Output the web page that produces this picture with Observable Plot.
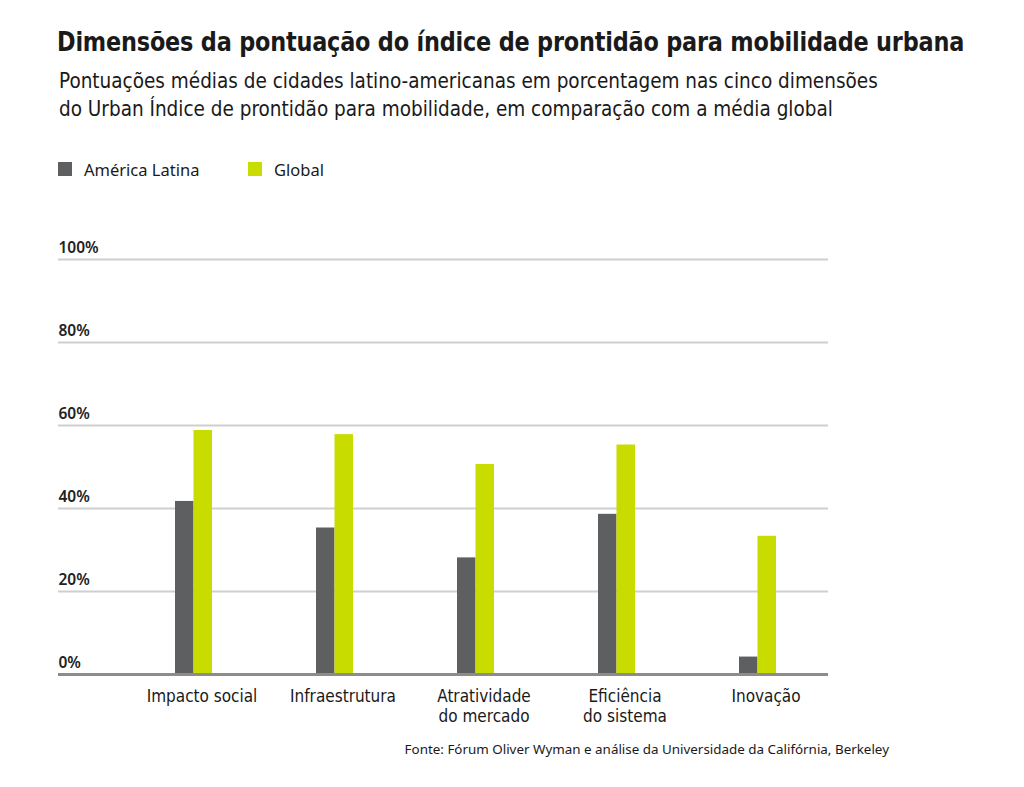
<!DOCTYPE html>
<html>
<head>
<meta charset="utf-8">
<script src="https://cdn.jsdelivr.net/npm/d3@7"></script>
<script src="https://cdn.jsdelivr.net/npm/@observablehq/plot@0.6"></script>
<style>
  html, body { margin: 0; padding: 0; background: #fff; }
  #page { position: relative; width: 1024px; height: 787px; overflow: hidden; font-family: "DejaVu Sans Condensed", "Liberation Sans Narrow", "Roboto", sans-serif; color: #1a1a1a; }
  #title { position: absolute; left: 57px; top: 27px; font-size: 26px; font-weight: bold; white-space: nowrap; letter-spacing: -0.2px; transform: scaleX(0.957); transform-origin: left top; }
  #subtitle { position: absolute; left: 59px; top: 67px; font-size: 20.5px; line-height: 28px; white-space: nowrap; }
  #legend { position: absolute; left: 58px; top: 158px; font-family: "Noto Sans", "DejaVu Sans", sans-serif; font-size: 16.5px; }
  .li { position: absolute; top: 0; white-space: nowrap; display: flex; align-items: center; height: 22px; }
  .sw { width: 14px; height: 14px; display: inline-block; margin-right: 12px; }
  #chart { position: absolute; left: 0; top: 230px; }
  #source { position: absolute; right: 135px; top: 740px; font-family: "Noto Sans", "DejaVu Sans", sans-serif; font-size: 13.4px; white-space: nowrap; }
</style>
</head>
<body>
<div id="page">
  <div id="title">Dimensões da pontuação do índice de prontidão para mobilidade urbana</div>
  <div id="subtitle">Pontuações médias de cidades latino-americanas em porcentagem nas cinco dimensões<br>do Urban Índice de prontidão para mobilidade, em comparação com a média global</div>
  <div id="legend"></div>
  <div id="chart"></div>
  <div id="source">Fonte: Fórum Oliver Wyman e análise da Universidade da Califórnia, Berkeley</div>
</div>
<script>
const categories = ["Impacto social", "Infraestrutura", "Atratividade do mercado", "Eficiência do sistema", "Inovação"];
const categoryLabels = ["Impacto social", "Infraestrutura", "Atratividade\ndo mercado", "Eficiência\ndo sistema", "Inovação"];
const seriesNames = ["América Latina", "Global"];
const seriesColors = ["#5e5f61", "#c8dc00"];
const latamValues = [41.7, 35.3, 28.1, 38.6, 4.2];
const globalValues = [58.8, 57.8, 50.6, 55.3, 33.3];
const yTicks = [0, 20, 40, 60, 80, 100];

const latam = categories.map((c, i) => ({cat: c, v: latamValues[i]}));
const glob = categories.map((c, i) => ({cat: c, v: globalValues[i]}));
const labelOf = new Map(categories.map((c, i) => [c, categoryLabels[i]]));

// legend
const legend = document.getElementById("legend");
const legendX = [0, 190];
seriesNames.forEach((n, i) => {
  const d = document.createElement("div");
  d.className = "li";
  d.style.left = legendX[i] + "px";
  d.innerHTML = `<span class="sw" style="background:${seriesColors[i]}"></span>${n}`;
  legend.appendChild(d);
});

const inset = 61.25, half = 9.25;
const chart = Plot.plot({
  width: 1024,
  height: 500,
  marginLeft: 58,
  marginRight: 196,
  marginTop: 29,
  marginBottom: 56,
  style: {fontFamily: "'DejaVu Sans Condensed', 'Liberation Sans Narrow', Roboto, sans-serif", fontSize: "16px", color: "#1a1a1a"},
  x: {domain: categories, range: [122.5, 827.5], padding: 0, axis: null},
  y: {domain: [0, 100], axis: null},
  marks: [
    Plot.ruleY(yTicks.filter(t => t > 0), {stroke: "#cfcfcf", strokeWidth: 2}),
    Plot.text(yTicks, {y: d => d, frameAnchor: "left", textAnchor: "start", dy: -11, text: d => d + "%", fontFamily: "'Noto Sans', 'DejaVu Sans', sans-serif", fontWeight: 600, fontSize: 15.5, fill: "#222"}),
    Plot.barY(latam, {x: "cat", y: "v", fill: seriesColors[0], insetLeft: inset, insetRight: inset, dx: -half}),
    Plot.barY(glob, {x: "cat", y: "v", fill: seriesColors[1], insetLeft: inset, insetRight: inset, dx: half}),
    Plot.ruleY([0], {stroke: "#8c8c8c", strokeWidth: 3}),
    Plot.text(categories, {x: d => d, frameAnchor: "bottom", lineAnchor: "top", dx: 8, dy: 14, lineHeight: 1.15, text: d => labelOf.get(d), fontSize: 17, fill: "#1a1a1a"})
  ]
});
document.getElementById("chart").appendChild(chart);
</script>
</body>
</html>
